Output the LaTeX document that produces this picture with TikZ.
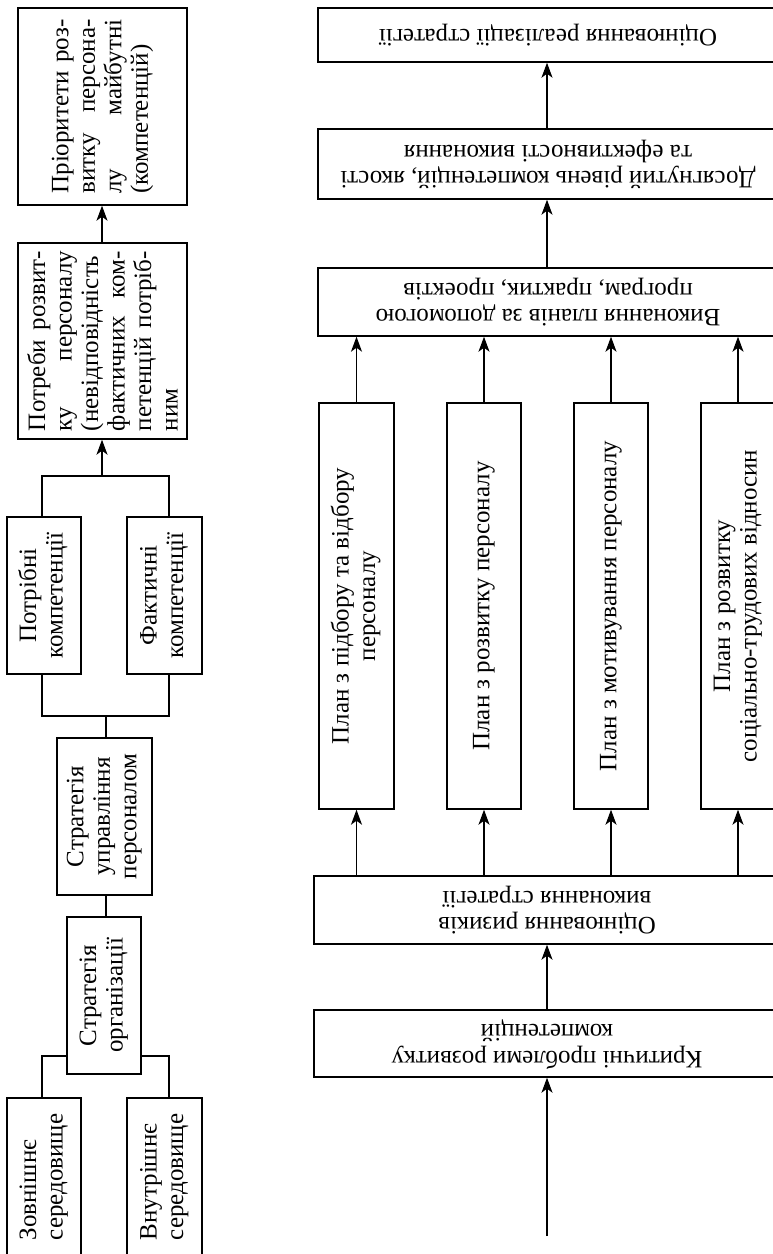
\documentclass[tikz,border=0pt]{standalone}
\usepackage{fontspec}
\setmainfont{Liberation Serif}
\usetikzlibrary{arrows.meta}
\newcommand{\myvt}[1]{\rotatebox{90}{\begin{tabular}{@{}c@{}}#1\end{tabular}}}
\newcommand{\myvl}[1]{\rotatebox{90}{\begin{tabular}{@{}l@{}}#1\end{tabular}}}
\newcommand{\myut}[1]{\rotatebox{180}{\begin{tabular}{@{}c@{}}#1\end{tabular}}}
\newcommand{\myjl}[2]{\makebox[#1][s]{#2}}
\begin{document}
\begin{tikzpicture}[x=1pt,y=-1pt,
  box/.style={draw, line width=1.4pt, inner sep=0pt, font=\fontsize{25}{26.5}\selectfont},
  conn/.style={line width=1.2pt},
  arr/.style={conn, -{Stealth[length=15pt,width=11pt,inset=4pt]}}]
\useasboundingbox (0,0) rectangle (773,1254);
\clip (0,0) rectangle (773,1254);
% ---------- left column ----------
\node[box, minimum width=169pt, minimum height=197pt] (pri) at (102.5,106.5)
  {\rotatebox{90}{\parbox{174pt}{\myjl{174pt}{Пріоритети роз-}\\\myjl{174pt}{витку персона-}\\\myjl{174pt}{лу майбутні}\\(компетенцій)}}};
\node[box, minimum width=169pt, minimum height=196pt] (potr) at (102.5,341)
  {\rotatebox{90}{\parbox{180pt}{\myjl{180pt}{Потреби розвит-}\\\myjl{180pt}{ку персоналу}\\\myjl{180pt}{(невідповідність}\\\myjl{180pt}{фактичних ком-}\\\myjl{180pt}{петенцій потріб-}\\ним}}};
\node[box, minimum width=74pt, minimum height=157pt] (potrib) at (44,595.5) {\myvt{Потрібні\\компетенції}};
\node[box, minimum width=75pt, minimum height=157pt] (fakt) at (164.5,595.5) {\myvt{Фактичні\\компетенції}};
\node[box, minimum width=95pt, minimum height=157pt] (sup) at (104.5,816.5) {\myvt{Стратегія\\управління\\персоналом}};
\node[box, minimum width=74pt, minimum height=157pt] (org) at (104,995.5) {\myvt{Стратегія\\організації}};
\node[box, minimum width=74pt, minimum height=158pt] (zov) at (44,1177) {\myvl{Зовнішнє\\середовище}};
\node[box, minimum width=75pt, minimum height=158pt] (vnut) at (164.5,1177) {\myvl{Внутрішнє\\середовище}};
\coordinate (jl) at (42,476);
\coordinate (jr) at (169,476);
\coordinate (jm) at (102,476);
\coordinate (kl) at (42,716);
\coordinate (kr) at (169,716);
\coordinate (km) at (106,716);
\coordinate (ol) at (42,1056);
\coordinate (or) at (169,1056);
\draw[arr] (potr.north -| jm) -- (pri.south -| jm);
\draw[conn] (potrib.north -| jl) -- (jl) -- (jr) -- (fakt.north -| jr);
\draw[arr] (jm) -- (potr.south -| jm);
\draw[conn] (potrib.south -| kl) -- (kl) -- (kr) -- (fakt.south -| kr);
\draw[conn] (km) -- (sup.north -| km);
\draw[conn] (sup.south -| km) -- (org.north -| km);
\draw[conn] (org.west |- ol) -- (ol) -- (zov.north -| ol);
\draw[conn] (org.east |- or) -- (or) -- (vnut.north -| or);
% ---------- right column ----------
\node[box, minimum width=460pt, minimum height=54pt] (otsr) at (548,35) {\myut{Оцінювання реалізації стратегії}};
\node[box, minimum width=460pt, minimum height=70pt] (dos) at (548,164) {\myut{Досягнутий рівень компетенцій, якості\\та ефективності виконання}};
\node[box, minimum width=460pt, minimum height=68pt] (vyk) at (548,302) {\myut{Виконання планів за допомогою\\програм, практик, проектів}};
\node[box, minimum width=75pt, minimum height=406pt] (pl1) at (356.5,606) {\myvt{План з підбору та відбору\\персоналу}};
\node[box, minimum width=74pt, minimum height=406pt] (pl2) at (484,606) {\myvt{План з розвитку персоналу}};
\node[box, minimum width=74pt, minimum height=406pt] (pl3) at (611,606) {\myvt{План з мотивування персоналу}};
\node[box, minimum width=74pt, minimum height=406pt] (pl4) at (738,606) {\myvt{План з розвитку\\соціально-трудових відносин}};
\node[box, minimum width=466pt, minimum height=68pt] (rizyk) at (547,910) {\myut{Оцінювання ризиків\\виконання стратегії}};
\node[box, minimum width=466pt, minimum height=67pt] (kryt) at (547,1043.5) {\myut{Критичні проблеми розвитку\\компетенцій}};
\coordinate (ax) at (547,0);
\coordinate (start) at (547,1236);
\draw[arr] (dos.north -| ax) -- (otsr.south -| ax);
\draw[arr] (vyk.north -| ax) -- (dos.south -| ax);
\foreach \p in {pl1,pl2,pl3,pl4}{
  \draw[arr] (\p.north) -- (vyk.south -| \p.north);
  \draw[arr] (rizyk.north -| \p.south) -- (\p.south);
}
\draw[arr] (kryt.north -| ax) -- (rizyk.south -| ax);
\draw[arr] (start) -- (kryt.south -| ax);
\end{tikzpicture}
\end{document}
